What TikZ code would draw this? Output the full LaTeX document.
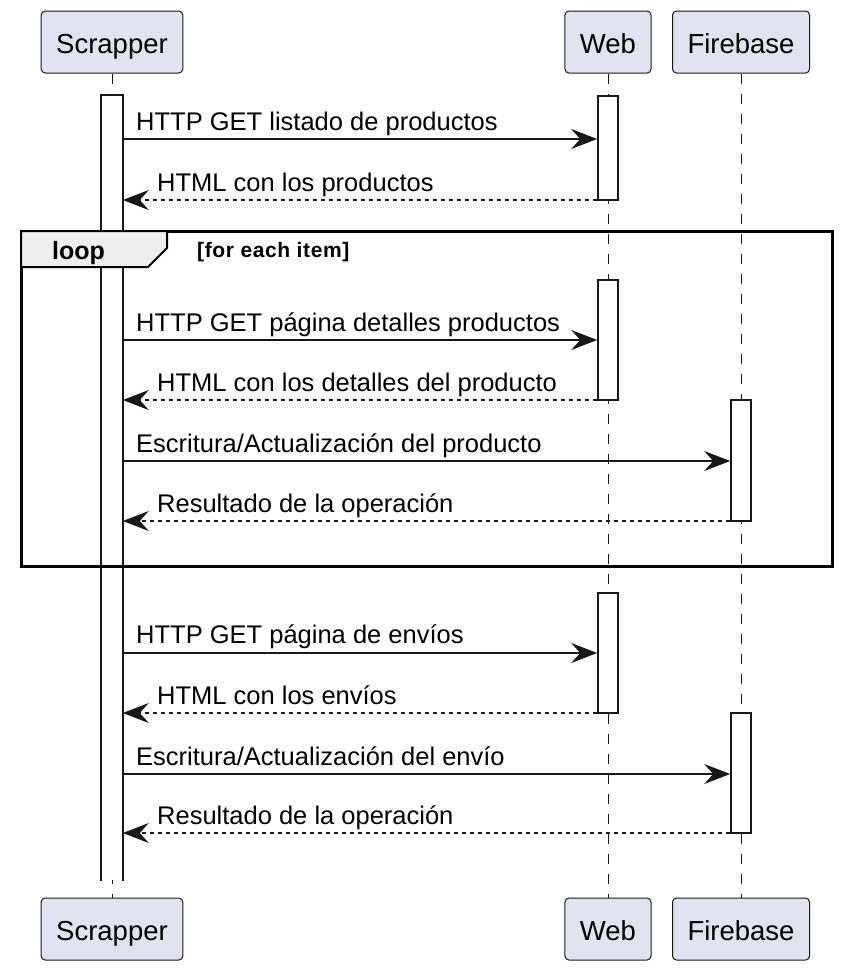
\documentclass[tikz,border=0pt]{standalone}
\usepackage{fontspec}
\setmainfont{Liberation Sans}
\newfontfamily\condfont[LetterSpace=3]{Liberation Sans}
\usepackage{tikz}
\usetikzlibrary{arrows.meta,calc,backgrounds}
\definecolor{partfill}{HTML}{E2E2F0}
\definecolor{partline}{HTML}{181818}
\definecolor{tabfill}{HTML}{EEEEEE}

\tikzset{
  participant/.style={draw=partline, fill=partfill, line width=1pt, rounded corners=4pt,
    minimum height=62pt, inner xsep=15pt, text height=22pt, text depth=0pt,
    font=\fontsize{27.5}{30}\selectfont},
  actbar/.style={draw=partline, fill=white, line width=1.6pt, minimum width=20pt, inner sep=0pt},
  lifeline/.style={draw=partline, line width=0.8pt, dash pattern=on 10pt off 10pt},
  msg/.style={draw=partline, line width=1.6pt, -{Stealth[length=26pt,width=20pt,inset=9pt]}},
  reply/.style={msg, dash pattern=on 4pt off 4pt},
  msgtext/.style={anchor=base west, inner sep=0pt, font=\fontsize{25.5}{28}\selectfont}
}

\begin{document}
\begin{tikzpicture}[x=1pt, y=-1pt]
    \useasboundingbox (0,0) rectangle (841,970);

    % the participants, top and bottom
    \node[participant] (scrTop) at (112,42) {Scrapper};
    \node[participant] (webTop) at (608,42) {Web};
    \node[participant] (fbTop) at (741,42) {Firebase};
    \node[participant] (scrBot) at (112,929) {Scrapper};
    \node[participant] (webBot) at (608,929) {Web};
    \node[participant] (fbBot) at (741,929) {Firebase};

    % the lifelines
    \draw[lifeline] (scrTop) -- (scrBot);
    \draw[lifeline] (webTop) -- (webBot);
    \draw[lifeline] (fbTop) -- (fbBot);

    % the activation bars
    \node[actbar, draw=none, minimum height=784pt] (scrAct) at (112,488) {};
    \draw[partline, line width=1.6pt] (scrAct.south west) -- (scrAct.north west)
        -- (scrAct.north east) -- (scrAct.south east);
    \node[actbar, minimum height=104pt] (webAct1) at (608,148) {};
    \node[actbar, minimum height=120pt] (webAct2) at (608,340) {};
    \node[actbar, minimum height=121pt] (fbAct1) at (741,460.5) {};
    \node[actbar, minimum height=120pt] (webAct3) at (608,653) {};
    \node[actbar, minimum height=120pt] (fbAct2) at (741,773) {};

    % the loop frame
    \draw[black, line width=3pt] (21,231) rectangle (832,566);
    \draw[black, line width=2pt, fill=tabfill] (21,231) -- (167,231) -- (167,248)
        -- (148,267) -- (21,267) -- cycle;
    \node[anchor=base west, inner sep=0pt, font=\bfseries\fontsize{25}{28}\selectfont]
        (loopName) at (52,259) {loop};
    \node[anchor=base west, inner sep=0pt, font=\condfont\bfseries\fontsize{21}{24}\selectfont]
        (loopCond) at (197,257) {[for each item]};

    % the messages
    \draw[msg] (scrAct.east |- 0,139) -- (webAct1.west |- 0,139);
    \node[msgtext] (t1) at (136,130) {HTTP GET listado de productos};
    \draw[reply] (webAct1.west |- 0,200) -- (scrAct.east |- 0,200);
    \node[msgtext] (t2) at (157,191) {HTML con los productos};

    \draw[msg] (scrAct.east |- 0,340) -- (webAct2.west |- 0,340);
    \node[msgtext] (t3) at (136,331) {HTTP GET página detalles productos};
    \draw[reply] (webAct2.west |- 0,400) -- (scrAct.east |- 0,400);
    \node[msgtext] (t4) at (157,391) {HTML con los detalles del producto};
    \draw[msg] (scrAct.east |- 0,461) -- (fbAct1.west |- 0,461);
    \node[msgtext] (t5) at (136,452) {Escritura/Actualización del producto};
    \draw[reply] (fbAct1.west |- 0,521) -- (scrAct.east |- 0,521);
    \node[msgtext] (t6) at (157,512) {Resultado de la operación};

    \draw[msg] (scrAct.east |- 0,653) -- (webAct3.west |- 0,653);
    \node[msgtext] (t7) at (136,643) {HTTP GET página de envíos};
    \draw[reply] (webAct3.west |- 0,713) -- (scrAct.east |- 0,713);
    \node[msgtext] (t8) at (157,704) {HTML con los envíos};
    \draw[msg] (scrAct.east |- 0,774) -- (fbAct2.west |- 0,774);
    \node[msgtext] (t9) at (136,765) {Escritura/Actualización del envío};
    \draw[reply] (fbAct2.west |- 0,833) -- (scrAct.east |- 0,833);
    \node[msgtext] (t10) at (157,824) {Resultado de la operación};
\end{tikzpicture}
\end{document}
